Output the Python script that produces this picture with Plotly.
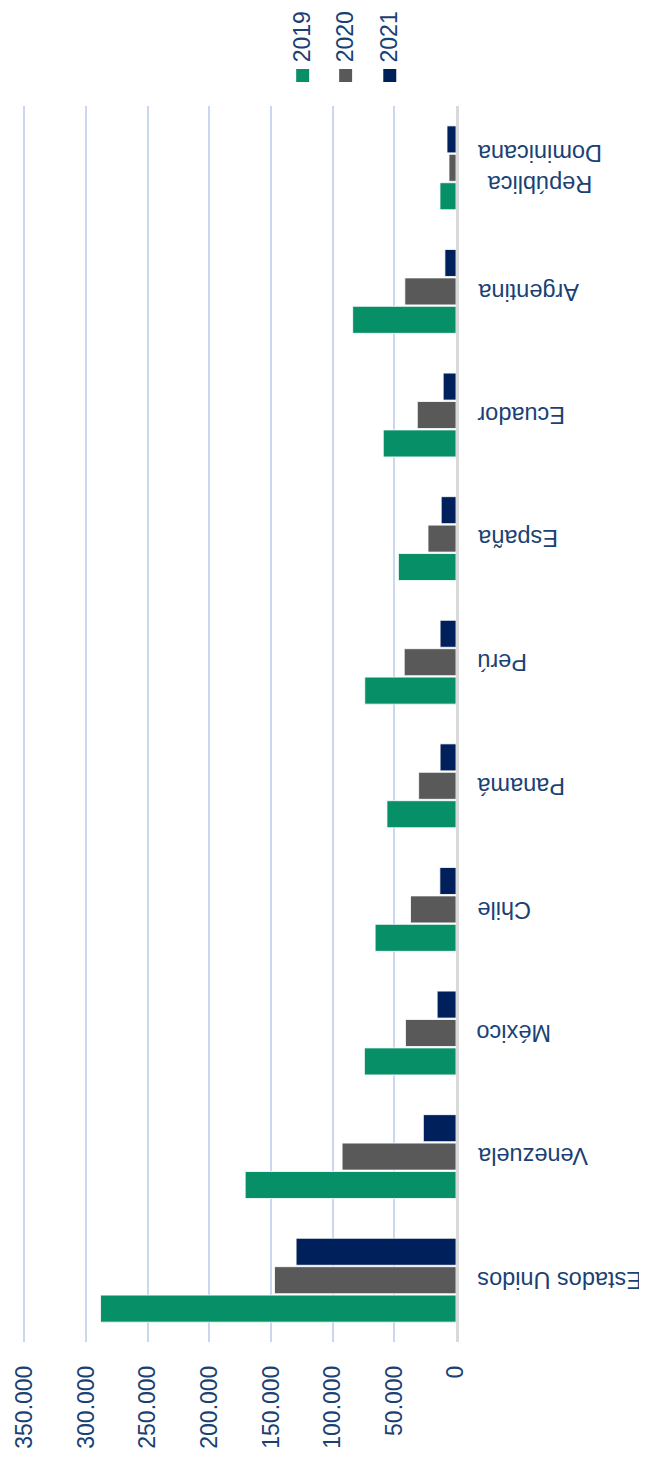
import plotly.graph_objects as go

# ---- data ----
categories = ["Estados Unidos", "Venezuela", "México", "Chile", "Panamá",
              "Perú", "España", "Ecuador", "Argentina", "República Dominicana"]
category_labels = ["Estados Unidos", "Venezuela", "México", "Chile", "Panamá",
                   "Perú", "España", "Ecuador", "Argentina", "República<br>Dominicana"]
years = ["2019", "2020", "2021"]
v2019 = [288300, 171000, 74300, 65600, 56000, 74000, 46700, 59000, 83800, 13000]
v2020 = [147200, 92400, 41000, 36900, 30300, 42000, 22700, 31400, 41500, 5700]
v2021 = [129700, 26500, 15300, 13100, 12900, 12900, 12000, 10400, 9000, 7300]
tick_vals = [0, 50000, 100000, 150000, 200000, 250000, 300000, 350000]
tick_text = ["0", "50.000", "100.000", "150.000", "200.000", "250.000", "300.000", "350.000"]

# ---- styles ----
colors = ["#078f68", "#595959", "#00205b"]
text_color = "#1a4174"
font_family = "Liberation Sans, Arial, sans-serif"

OFF = 8  # page body margin
W, H = 647 - OFF, 1462 - OFF
# target page-pixel positions
X350, X0, T, B = 24, 456, 106, 1342
RANGE_MAX = 352000
scale = (X0 - X350) / 350000.0
L = X0 - RANGE_MAX * scale  # page px of plot left edge


def px_x(x):
    return (x - L) / (X0 - L)


def px_y(y):
    return (B - y) / (B - T)


fig = go.Figure()
for year, vals, col in zip(years, [v2019, v2020, v2021], colors):
    fig.add_trace(go.Bar(
        y=categories, x=vals, name=year, orientation="h",
        marker=dict(color=col, line=dict(color="rgba(255,255,255,0.8)", width=1)),
        showlegend=False,
    ))

annotations = []
for cat, lab in zip(categories, category_labels):
    annotations.append(dict(
        x=px_x(475), xref="paper", y=cat, yref="y",
        text=lab, showarrow=False, textangle=180,
        xanchor="left", yanchor="middle", align="center",
        font=dict(size=23.5, color=text_color, family=font_family),
    ))

shapes = []
legend_x = [302.5, 345.5, 389.7]
for year, col, cx in zip(years, colors, legend_x):
    shapes.append(dict(
        type="rect", xref="paper", yref="paper",
        x0=px_x(cx - 6.5), x1=px_x(cx + 6.5), y0=px_y(82), y1=px_y(69),
        fillcolor=col, line=dict(width=0),
    ))
    annotations.append(dict(
        x=px_x(cx - 0.8), xref="paper", y=px_y(64), yref="paper",
        text=year, showarrow=False, textangle=-90,
        xanchor="center", yanchor="bottom",
        font=dict(size=23, color=text_color, family=font_family),
    ))

fig.update_layout(
    width=W, height=H,
    margin=dict(l=L - OFF, r=W - (X0 - OFF), t=T - OFF, b=H - (B - OFF), pad=0,
                autoexpand=False),
    paper_bgcolor="white", plot_bgcolor="white",
    barmode="group", bargap=0.31, bargroupgap=0.05,
    font=dict(family=font_family, color=text_color),
    annotations=annotations, shapes=shapes,
    showlegend=False,
)
fig.update_xaxes(
    range=[RANGE_MAX, 0], tickvals=tick_vals, ticktext=tick_text,
    tickangle=-90, showgrid=True, gridcolor="#c9d8ee", gridwidth=1.5,
    zeroline=False, showline=False, ticks="", automargin=False,
    tickfont=dict(size=23, color=text_color, family=font_family),
    ticklabelstandoff=18,
)
fig.update_yaxes(
    side="right", categoryorder="array", categoryarray=categories,
    range=[-0.5, 9.5], showticklabels=False, showgrid=False,
    showline=True, linecolor="#d9d9d9", linewidth=2.5, ticks="",
    zeroline=False, automargin=False,
)

fig.write_html("out.html")
